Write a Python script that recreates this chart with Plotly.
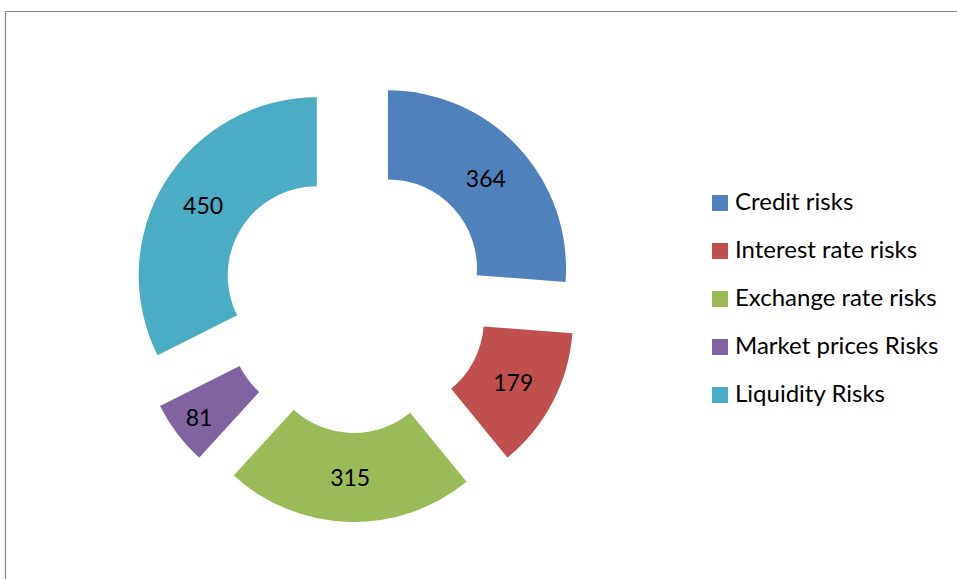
import plotly.graph_objects as go

categories = ["Credit risks", "Interest rate risks", "Exchange rate risks",
              "Market prices Risks", "Liquidity Risks"]
values = [364, 179, 315, 81, 450]
colors = ["#4F81BD", "#C0504D", "#9BBB59", "#8064A2", "#4BACC6"]

W, H = 957, 579
FONT = "Lato, Calibri, 'Liberation Sans', sans-serif"

# pie geometry (pixels)
cx, cy, half = 355, 299, 223
fig = go.Figure(go.Pie(
    labels=categories, values=values, sort=False, direction="clockwise",
    rotation=0, hole=0.5, pull=[0.252] * len(values),
    marker=dict(colors=colors, line=dict(width=0)),
    textinfo="value", textposition="inside", insidetextorientation="horizontal",
    textfont=dict(family=FONT, size=23, color="black"),
    showlegend=False, hoverinfo="label+value",
    domain=dict(x=[(cx - half) / W, (cx + half) / W],
                y=[1 - (cy + half) / H, 1 - (cy - half) / H]),
))

shapes = [dict(type="rect", xref="paper", yref="paper",
               x0=5.5 / W, x1=1.02, y0=-0.02, y1=1 - 11.5 / H,
               line=dict(color="#868686", width=1.2), fillcolor="rgba(0,0,0,0)")]
annotations = []
lx, ly0, dy, sq = 712, 203, 48, 16
for i, (name, col) in enumerate(zip(categories, colors)):
    yc = ly0 + i * dy
    shapes.append(dict(type="rect", xref="paper", yref="paper",
                       x0=lx / W, x1=(lx + sq) / W,
                       y0=1 - (yc + sq / 2) / H, y1=1 - (yc - sq / 2) / H,
                       line=dict(width=0), fillcolor=col))
    annotations.append(dict(xref="paper", yref="paper", x=733 / W, y=1 - (yc - 2.5) / H,
                            text=name, showarrow=False, xanchor="left",
                            yanchor="middle",
                            font=dict(family=FONT, size=24, color="black")))

fig.update_layout(width=W, height=H, margin=dict(l=0, r=0, t=0, b=0),
                  paper_bgcolor="white", plot_bgcolor="white",
                  shapes=shapes, annotations=annotations)
fig.write_html("out.html", config={"displayModeBar": False},
               post_script="document.body.style.margin='0px';document.body.style.padding='0px';")
